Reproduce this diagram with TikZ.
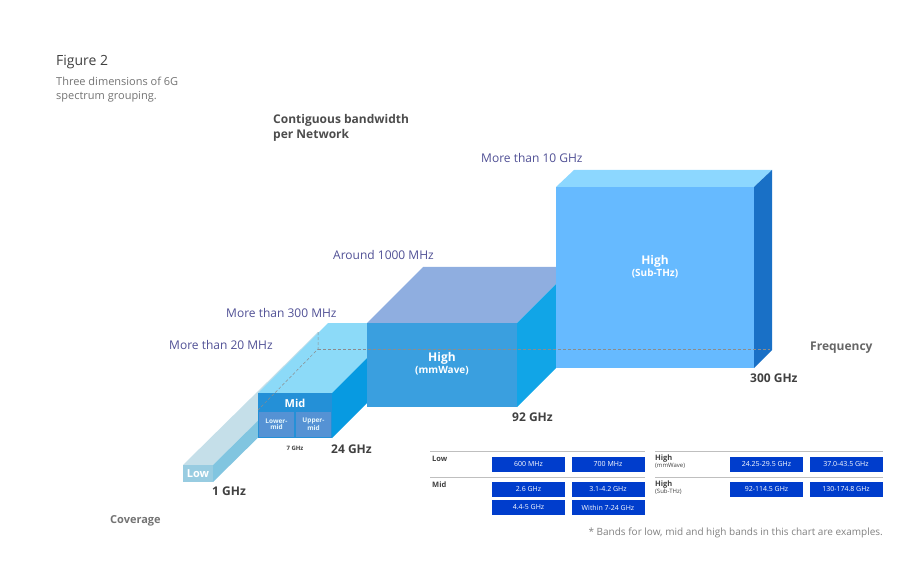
\documentclass[tikz,border=0pt]{standalone}
\usepackage{fontspec}
\setmainfont{Open Sans}
\begin{document}
\begin{tikzpicture}[x=1pt,y=-1pt,
  lbl/.style={text=blue!30!gray!90!black,font=\fontsize{12}{14}\selectfont,anchor=west,inner sep=0},
  axis/.style={text=black!75,font=\bfseries\fontsize{12}{14}\selectfont,anchor=west,inner sep=0},
  tag/.style={fill=blue!70!cyan!80!black,text=white,font=\fontsize{7}{8}\selectfont,minimum width=73pt,minimum height=15pt,inner sep=0},
  rowlbl/.style={text=black!75,font=\bfseries\fontsize{7.5}{8}\selectfont,anchor=north west,inner sep=0,align=left},
  hid/.style={densely dashed,black!45,line width=0.5pt},
  rule/.style={black!25,line width=0.8pt}]
\useasboundingbox (0,0) rectangle (900,588);
% Low
\fill[cyan!30!teal!25] (183,465)--(213,465)--(348,332)--(318,332)--cycle;
\fill[cyan!60!teal!55] (213,465)--(213,482)--(348,349)--(348,332)--cycle;
\fill[cyan!50!teal!45] (183,465) rectangle (213,482);
\node[text=white,font=\bfseries\fontsize{11}{12}\selectfont] (low) at (198,474) {Low};
% Mid
\fill[cyan!45] (258,393)--(332,393)--(402,323)--(328,323)--cycle;
\fill[cyan!85!blue] (332,393)--(332,438)--(402,368)--(402,323)--cycle;
\fill[cyan!70!blue!90] (258,393) rectangle (332,438);
\fill[cyan!55!blue!70] (259,412) rectangle (294,437);
\fill[cyan!55!blue!70] (296,412) rectangle (331,437);
\node[text=white,font=\bfseries\fontsize{11}{12}\selectfont] (mid) at (295,403) {Mid};
\node[text=white!90!cyan,font=\bfseries\fontsize{6.5}{6}\selectfont,align=center] (lm) at (276.5,424) {Lower-\\mid};
\node[text=white!90!cyan,font=\bfseries\fontsize{6.5}{6}\selectfont,align=center] (um) at (313.5,424) {Upper-\\mid};
% mmWave
\fill[cyan!50!blue!45] (367,323)--(517,323)--(573,267)--(423,267)--cycle;
\fill[cyan!90!blue!95] (517,323)--(517,407)--(573,351)--(573,267)--cycle;
\fill[cyan!75!blue!80] (367,323) rectangle (517,407);
\node[text=white,font=\bfseries\fontsize{12}{14}\selectfont,align=center] (mm) at (442,364) {High\\[-2pt]{\fontsize{10}{12}\selectfont(mmWave)}};
% Sub-THz
\fill[blue!35!cyan!45] (556,187)--(754,187)--(772,170)--(574,170)--cycle;
\fill[blue!50!cyan!75!black!90] (754,187)--(754,368)--(772,350)--(772,170)--cycle;
\fill[blue!45!cyan!60] (556,187) rectangle (754,368);
\node[text=white,font=\bfseries\fontsize{12}{14}\selectfont,align=center] (thz) at (655,267) {High\\[-2pt]{\fontsize{10}{12}\selectfont(Sub-THz)}};
% hidden edges
\coordinate (b0) at (318,332); \coordinate (b1) at (318,349);
\coordinate (b2) at (258,410); \coordinate (b3) at (770,349);
\draw[hid] (b0)--(b1)--(b2); \draw[hid] (b1)--(b3);
% titles
\node[anchor=west,inner sep=0,text=black!75,font=\fontsize{14}{16}\selectfont] (fig) at (56,62) {Figure 2};
\node[anchor=north west,inner sep=0,text=black!55,font=\fontsize{11}{13.5}\selectfont,align=left] (sub) at (56,77) {Three dimensions of 6G\\spectrum grouping.};
\node[anchor=north west,inner sep=0,text=black!70,font=\bfseries\fontsize{12}{15}\selectfont,align=left] (cb) at (273,114) {Contiguous bandwidth\\per Network};
\node[lbl] (l10) at (481,158) {More than 10 GHz};
\node[lbl] (l1000) at (333,255) {Around 1000 MHz};
\node[lbl] (l300) at (226,313) {More than 300 MHz};
\node[lbl] (l20) at (169,345) {More than 20 MHz};
\node[anchor=west,inner sep=0,text=black!60,font=\bfseries\fontsize{12}{14}\selectfont] (fq) at (810,348) {Frequency};
\node[anchor=west,inner sep=0,text=black!55,font=\bfseries\fontsize{11}{14}\selectfont] (cov) at (110,521) {Coverage};
\node[axis] (g300) at (750,378) {300 GHz};
\node[axis] (g92) at (512,417) {92 GHz};
\node[axis] (g24) at (331,449) {24 GHz};
\node[axis] (g1) at (212,491) {1 GHz};
\node[text=black!75,font=\bfseries\fontsize{6}{7}\selectfont] (g7) at (295,448) {7 GHz};
% table
\draw[rule] (430,451)--(645,451); \draw[rule] (655,451)--(883,451);
\draw[rule] (430,477)--(645,477); \draw[rule] (655,477)--(883,477);
\node[rowlbl] (rl) at (432,456) {Low};
\node[rowlbl] (rm) at (432,482) {Mid};
\node[rowlbl] (rh1) at (655,455) {High\\[-1pt]{\mdseries\fontsize{6}{7}\selectfont(mmWave)}};
\node[rowlbl] (rh2) at (655,481) {High\\[-1pt]{\mdseries\fontsize{6}{7}\selectfont(Sub-THz)}};
\node[tag] (t1) at (528.5,464) {600 MHz};
\node[tag] (t2) at (608,464) {700 MHz};
\node[tag] (t3) at (528.5,489.5) {2.6 GHz};
\node[tag] (t4) at (608,489.5) {3.1-4.2 GHz};
\node[tag] (t5) at (528.5,507.5) {4.4-5 GHz};
\node[tag] (t6) at (608,507.5) {Within 7-24 GHz};
\node[tag] (t7) at (766.5,464) {24.25-29.5 GHz};
\node[tag] (t8) at (846,464) {37.0-43.5 GHz};
\node[tag] (t9) at (766.5,489.5) {92-114.5 GHz};
\node[tag] (t10) at (846,489.5) {130-174.8 GHz};
\node[anchor=east,inner sep=0,text=black!50,font=\fontsize{10}{12}\selectfont] (note) at (883,533) {* Bands for low, mid and high bands in this chart are examples.};
\end{tikzpicture}
\end{document}
